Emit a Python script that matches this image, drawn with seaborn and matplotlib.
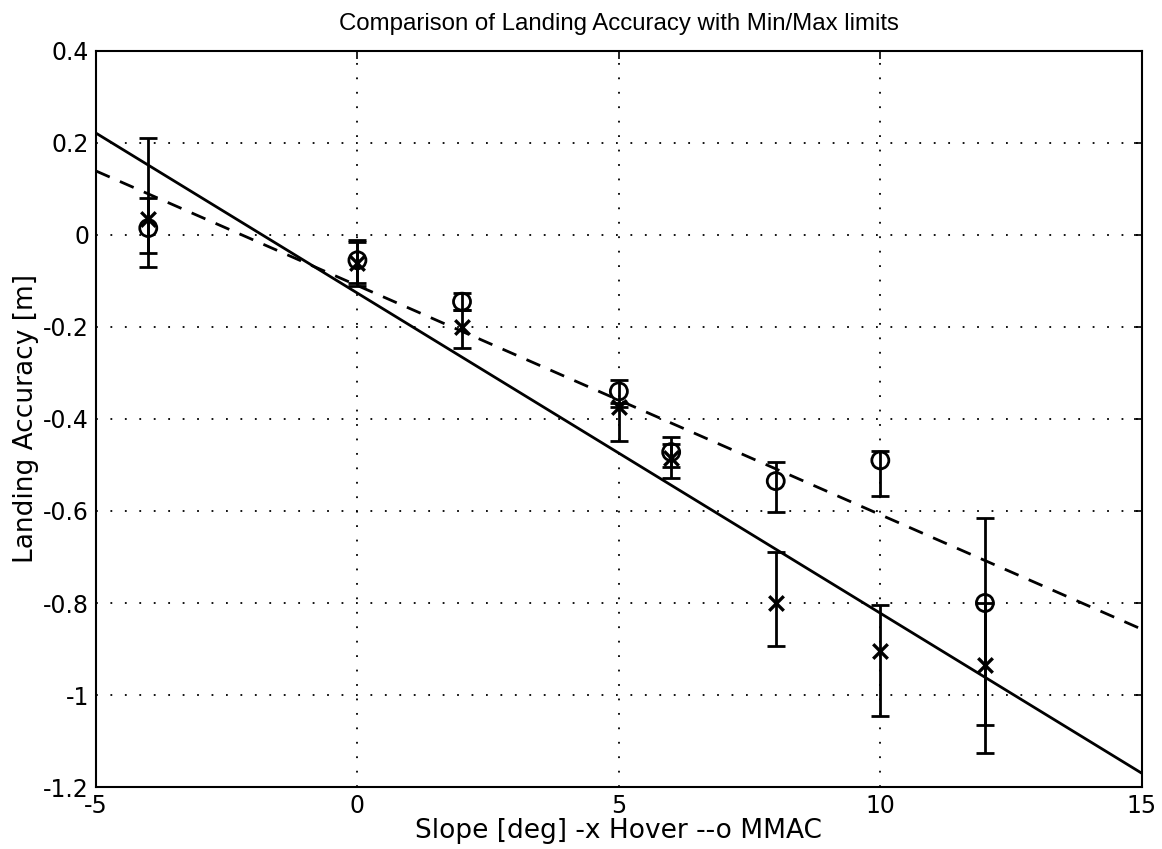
import numpy as np
import pandas as pd
import matplotlib
matplotlib.use("Agg")
import matplotlib.pyplot as plt
from matplotlib.ticker import FuncFormatter
import seaborn as sns

# Slope angles tested [deg]
slope = [-4, 0, 2, 5, 6, 8, 10, 12]

# Hover landing accuracy [m]: mean, min, max
hover_mean = [0.035, -0.060, -0.200, -0.375, -0.485, -0.800, -0.905, -0.935]
hover_min = [-0.040, -0.110, -0.245, -0.447, -0.528, -0.893, -1.045, -1.127]
hover_max = [0.210, -0.010, -0.163, -0.365, -0.455, -0.690, -0.804, -0.800]

# MMAC landing accuracy [m]: mean, min, max
mmac_mean = [0.015, -0.055, -0.145, -0.340, -0.472, -0.535, -0.490, -0.800]
mmac_min = [-0.070, -0.105, -0.163, -0.375, -0.505, -0.603, -0.567, -1.065]
mmac_max = [0.080, -0.015, -0.126, -0.315, -0.440, -0.494, -0.470, -0.615]

x_ticks = [-5, 0, 5, 10, 15]
y_ticks = [0.4, 0.2, 0, -0.2, -0.4, -0.6, -0.8, -1, -1.2]

sns.set_theme(style="white")
plt.rcParams["font.family"] = ["DejaVu Sans"]
plt.rcParams["axes.unicode_minus"] = False
plt.rcParams["text.color"] = "black"
plt.rcParams["axes.labelcolor"] = "black"

fig = plt.figure(figsize=(11.62, 8.49), dpi=100)
ax = fig.add_axes([0.0826, 0.073, 0.900, 0.867])

df = pd.DataFrame({"slope": slope,
                   "hover": hover_mean, "hover_lo": hover_min, "hover_hi": hover_max,
                   "mmac": mmac_mean, "mmac_lo": mmac_min, "mmac_hi": mmac_max})

# Least-squares trend lines across the full slope range
xs = np.array([x_ticks[0], x_ticks[-1]], dtype=float)
p_h = np.polyfit(df["slope"], df["hover"], 1)
p_m = np.polyfit(df["slope"], df["mmac"], 1)
fits = pd.DataFrame({"slope": xs, "hover": np.polyval(p_h, xs), "mmac": np.polyval(p_m, xs)})
sns.lineplot(data=fits, x="slope", y="hover", ax=ax, color="black", lw=2.0)
sns.lineplot(data=fits, x="slope", y="mmac", ax=ax, color="black", lw=2.0,
             linestyle=(0, (5.4, 4.0)))

# Min/max ranges
for col in ("hover", "mmac"):
    lo = df[col] - df[col + "_lo"]
    hi = df[col + "_hi"] - df[col]
    ax.errorbar(df["slope"], df[col], yerr=[lo, hi], fmt="none",
                ecolor="black", elinewidth=2.0, capsize=6.5, capthick=2.0, zorder=3)

sns.scatterplot(data=df, x="slope", y="hover", ax=ax, marker="x", s=110,
                color="black", linewidth=2.4, zorder=4)
sns.scatterplot(data=df, x="slope", y="mmac", ax=ax, marker="o", s=150,
                facecolors="none", edgecolors="black", linewidth=2.0, zorder=4)

ax.set_xlim(-5, 15)
ax.set_ylim(-1.2, 0.4)
ax.set_xticks(x_ticks)
ax.set_yticks(y_ticks)
fmt = FuncFormatter(lambda v, _: "%g" % round(v, 3))
ax.xaxis.set_major_formatter(fmt)
ax.yaxis.set_major_formatter(fmt)

ax.grid(True, color="black", linestyle=(0, (1, 7)), linewidth=1.3)
ax.tick_params(direction="in", length=6, width=1.2, labelsize=17, colors="black",
               top=True, right=True, pad=5)
for s in ax.spines.values():
    s.set_visible(True)
    s.set_color("black")
    s.set_linewidth(1.5)

ax.set_title("Comparison of Landing Accuracy with Min/Max limits", fontsize=17.3,
             pad=15, color="black", family=["Liberation Sans", "DejaVu Sans"])
ax.set_xlabel("Slope [deg] -x Hover --o MMAC", fontsize=19, labelpad=0)
ax.set_ylabel("Landing Accuracy [m]", fontsize=19, labelpad=3)

fig.savefig("out.png", dpi=100, facecolor="white")
